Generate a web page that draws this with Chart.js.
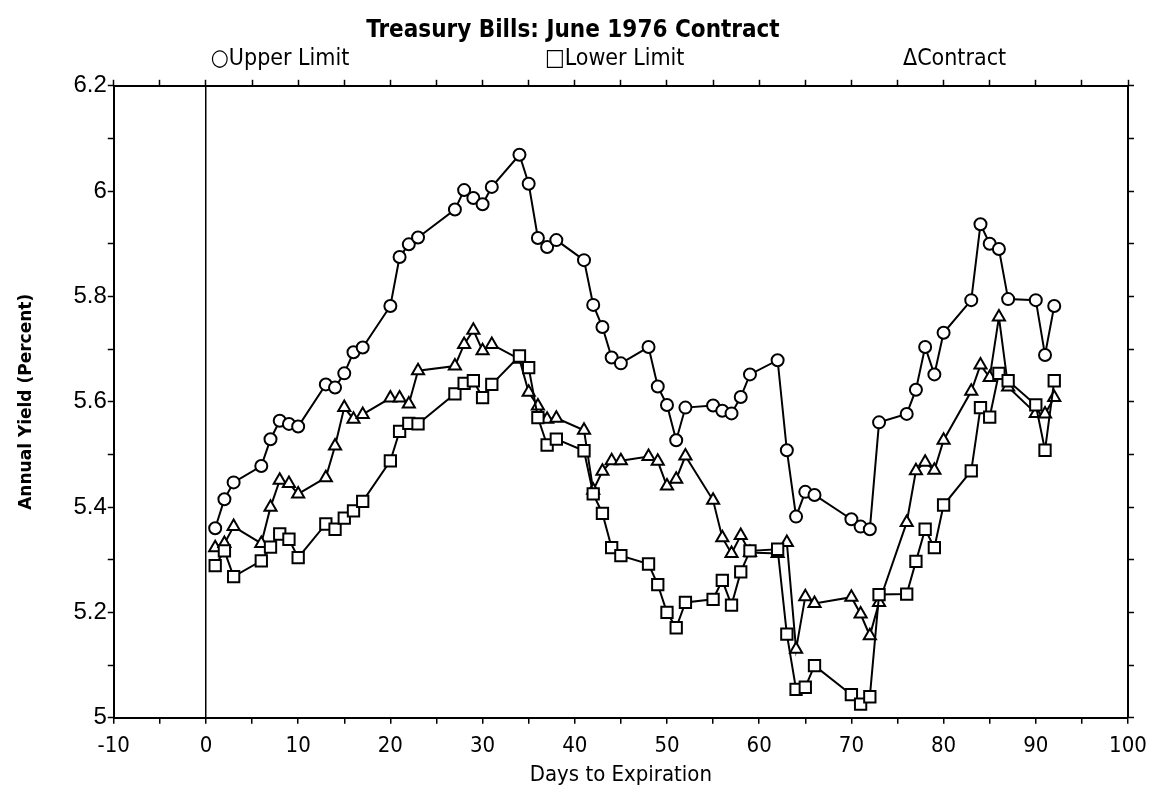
<!DOCTYPE html>
<html lang="en">
<head>
    <meta charset="UTF-8">
    <title>Treasury Bills: June 1976 Contract</title>
    <script src="https://cdn.jsdelivr.net/npm/chart.js"></script>
    <style>
        html, body { margin: 0; padding: 0; background: #fff; }
        #wrap { width: 1152px; height: 792px; }
    </style>
</head>
<body>
    <div id="wrap"><canvas id="myChart" width="1152" height="792"></canvas></div>

    <script>
        // days to expiration (trading days only)
        const days = [1, 2, 3, 6, 7, 8, 9, 10, 13, 14, 15, 16, 17, 20, 21, 22, 23, 27, 28, 29, 30, 31,
            34, 35, 36, 37, 38, 41, 42, 43, 44, 45, 48, 49, 50, 51, 52, 55, 56, 57, 58, 59,
            62, 63, 64, 65, 66, 70, 71, 72, 73, 76, 77, 78, 79, 80, 83, 84, 85, 86, 87, 90, 91, 92];

        const upperLimit = [5.36, 5.415, 5.447, 5.478, 5.529, 5.564, 5.558, 5.553, 5.633, 5.627, 5.654, 5.694, 5.703,
            5.782, 5.875, 5.899, 5.912, 5.965, 6.002, 5.987, 5.975, 6.008, 6.069, 6.014, 5.911, 5.894, 5.907,
            5.869, 5.784, 5.742, 5.684, 5.673, 5.704, 5.629, 5.594, 5.527, 5.589, 5.593, 5.583, 5.578, 5.609, 5.652,
            5.679, 5.508, 5.382, 5.429, 5.423, 5.377, 5.363, 5.358, 5.561, 5.577, 5.623, 5.704, 5.652, 5.731,
            5.793, 5.937, 5.9, 5.89, 5.795, 5.793, 5.689, 5.782];

        const lowerLimit = [5.289, 5.317, 5.268, 5.298, 5.324, 5.349, 5.339, 5.304, 5.368, 5.358, 5.379, 5.393, 5.411,
            5.488, 5.544, 5.559, 5.558, 5.615, 5.635, 5.64, 5.608, 5.633, 5.687, 5.665, 5.57, 5.518, 5.529,
            5.507, 5.425, 5.388, 5.323, 5.308, 5.292, 5.253, 5.2, 5.171, 5.219, 5.225, 5.261, 5.214, 5.277, 5.317,
            5.32, 5.159, 5.054, 5.058, 5.099, 5.044, 5.026, 5.04, 5.234, 5.235, 5.297, 5.358, 5.323, 5.404,
            5.469, 5.589, 5.571, 5.654, 5.64, 5.594, 5.508, 5.64];

        const contract = [5.323, 5.331, 5.363, 5.331, 5.4, 5.451, 5.445, 5.425, 5.456, 5.516, 5.589, 5.567, 5.576,
            5.607, 5.607, 5.596, 5.659, 5.668, 5.709, 5.736, 5.697, 5.709, 5.681, 5.618, 5.592, 5.567, 5.569,
            5.546, 5.432, 5.468, 5.488, 5.488, 5.496, 5.487, 5.44, 5.453, 5.497, 5.413, 5.342, 5.312, 5.346, 5.314,
            5.312, 5.333, 5.13, 5.23, 5.217, 5.229, 5.197, 5.156, 5.219, 5.371, 5.469, 5.485, 5.47, 5.527,
            5.62, 5.67, 5.646, 5.761, 5.628, 5.578, 5.577, 5.608];

        const seriesNames = ['Upper Limit', 'Lower Limit', 'Contract'];
        const seriesSymbols = ['\u25CB', '\u25A1', '\u0394'];

        const FONT = '"Liberation Sans Narrow", "DejaVu Sans Condensed", "Liberation Sans", sans-serif';

        function toPoints(values) {
            return days.map(function(d, i) { return { x: d, y: values[i] }; });
        }

        function makeSet(label, values, style, radius) {
            return {
                label: label,
                data: toPoints(values),
                borderColor: '#000',
                borderWidth: 2,
                backgroundColor: '#fff',
                pointStyle: style,
                pointRadius: radius,
                pointBorderWidth: 2,
                pointBackgroundColor: '#fff',
                pointBorderColor: '#000',
                tension: 0
            };
        }

        // legend line under the title, symbol glyph + name like the original
        const topLegend = {
            id: 'topLegend',
            afterDraw: function(chart) {
                const ctx = chart.ctx;
                const xs = [0.164, 0.494, 0.829];
                ctx.save();
                ctx.fillStyle = '#000';
                ctx.font = '23px ' + FONT;
                ctx.textAlign = 'center';
                ctx.textBaseline = 'middle';
                seriesNames.forEach(function(name, i) {
                    ctx.fillText(seriesSymbols[i] + name, chart.chartArea.left + xs[i] * (chart.chartArea.right - chart.chartArea.left), 59);
                });
                ctx.restore();
            }
        };

        const tickGrid = {
            drawOnChartArea: false,
            drawTicks: true,
            tickLength: 6,
            tickColor: '#000',
            tickWidth: 1.5
        };

        const config = {
            type: 'line',
            data: {
                datasets: [
                    makeSet(seriesNames[0], upperLimit, 'circle', 6),
                    makeSet(seriesNames[1], lowerLimit, 'rect', 8),
                    makeSet(seriesNames[2], contract, 'triangle', 7)
                ]
            },
            options: {
                responsive: false,
                animation: false,
                layout: { padding: { top: 0, right: 18, bottom: 4, left: 12 } },
                plugins: {
                    legend: { display: false },
                    tooltip: { enabled: false },
                    title: {
                        display: true,
                        text: 'Treasury Bills: June 1976 Contract',
                        color: '#000',
                        font: { family: FONT, size: 24, weight: 'bold' },
                        padding: { top: 16, bottom: 35 }
                    }
                },
                scales: {
                    x: {
                        type: 'linear',
                        min: -10,
                        max: 100,
                        border: { color: '#000', width: 2 },
                        grid: {
                            drawOnChartArea: true,
                            drawTicks: true,
                            tickLength: 6,
                            tickColor: '#000',
                            tickWidth: 1.5,
                            lineWidth: 1.5,
                            color: function(c) { return c.tick && c.tick.value === 0 ? '#000' : 'transparent'; }
                        },
                        ticks: {
                            stepSize: 5,
                            color: '#000',
                            font: { family: FONT, size: 22, lineHeight: 1.9 },
                            maxRotation: 0,
                            autoSkip: false,
                            padding: 2,
                            callback: function(v) { return v % 10 === 0 ? String(v) : ''; }
                        },
                        title: {
                            display: true,
                            text: 'Days to Expiration',
                            color: '#000',
                            font: { family: FONT, size: 22 },
                            padding: { top: -8, bottom: 0 }
                        }
                    },
                    x2: {
                        type: 'linear',
                        position: 'top',
                        min: -10,
                        max: 100,
                        border: { color: '#000', width: 2 },
                        grid: tickGrid,
                        ticks: { stepSize: 5, display: false }
                    },
                    y: {
                        min: 5,
                        max: 6.2,
                        border: { color: '#000', width: 2 },
                        grid: tickGrid,
                        ticks: {
                            stepSize: 0.1,
                            color: '#000',
                            font: { family: '"Liberation Sans", Arial, sans-serif', size: 24 },
                            padding: 1,
                            autoSkip: false,
                            callback: function(v) {
                                const k = Math.round(v * 10);
                                return k % 2 === 0 ? String(k / 10) : '';
                            }
                        },
                        title: {
                            display: true,
                            text: 'Annual Yield (Percent)',
                            color: '#000',
                            font: { family: '"DejaVu Sans", sans-serif', size: 17, weight: 'bold' },
                            padding: { bottom: 36 }
                        }
                    },
                    y2: {
                        position: 'right',
                        min: 5,
                        max: 6.2,
                        border: { color: '#000', width: 2 },
                        grid: tickGrid,
                        ticks: { stepSize: 0.1, display: false }
                    }
                }
            },
            plugins: [topLegend]
        };

        const myChart = new Chart(document.getElementById('myChart'), config);
    </script>
</body>
</html>
